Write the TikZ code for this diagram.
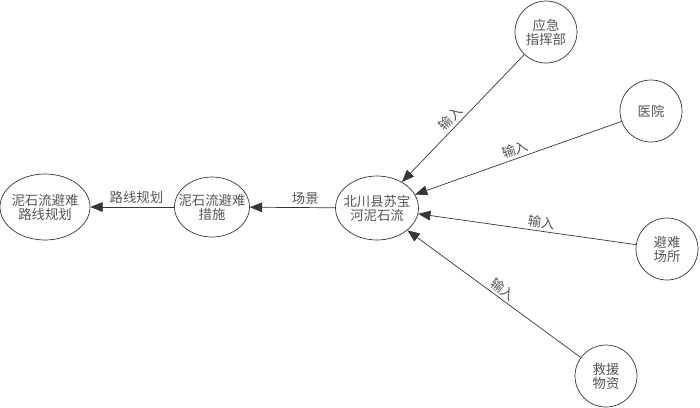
\documentclass[tikz,border=0pt]{standalone}
\usepackage{fontspec}
\newfontfamily\cjk{Noto Sans CJK SC}
\usepackage{tikz}
\usetikzlibrary{shapes.geometric}
\usetikzlibrary{arrows.meta, positioning}
\usepackage{xcolor}
\definecolor{inkGray}{RGB}{55, 55, 55}
\colorlet{node edge}{inkGray}
\colorlet{node text}{inkGray!85}
\tikzset{
    event/.style={ellipse, draw=node edge, thin, inner xsep=-3pt, inner ysep=0pt, align=center, text=node text},
    place/.style={circle, draw=node edge, thin, minimum size=1.24cm, inner sep=0pt, align=center, text=node text},
    link/.style={draw=node edge, thin, -{Triangle[length=7pt, width=5.5pt]}},
    tag/.style={text=node text, inner sep=1.5pt}
}

\begin{document}
\begin{tikzpicture}[x=0.02cm, y=-0.02cm, font=\cjk\fontsize{7.6pt}{8pt}\selectfont]
                    \useasboundingbox (0,0) rectangle (700,407);

                    % Draw the chain of ellipses
                    \node[event, minimum width=1.8cm, minimum height=1.32cm] (route) at (45,207) {泥石流避难\\路线规划};
                    \node[event, minimum width=1.5cm, minimum height=1.2cm, inner xsep=-5pt] (measure) at (212,207) {泥石流避难\\措施};
                    \node[event, minimum width=1.66cm, minimum height=1.28cm, inner xsep=-4pt] (flow) at (377,208) {北川县苏宝\\河泥石流};

                    % Draw the input circles
                    \node[place] (cmd) at (546,32) {应急\\指挥部};
                    \node[place] (hosp) at (651,111) {医院};
                    \node[place] (shelter) at (667,249) {避难\\场所};
                    \node[place] (supply) at (606,376) {救援\\物资};

                    % Draw the connectors
                    \draw[link] (flow) -- node[tag, pos=0.35, above] {场景} (measure);
                    \draw[link] (measure) -- node[tag, pos=0.45, above] {路线规划} (route);
                    \foreach \src/\p in {cmd/0.55, hosp/0.5, shelter/0.44, supply/0.48}
                        \draw[link] (\src) -- node[tag, pos=\p, sloped, above] {输入} (flow);
                \end{tikzpicture}
\end{document}
